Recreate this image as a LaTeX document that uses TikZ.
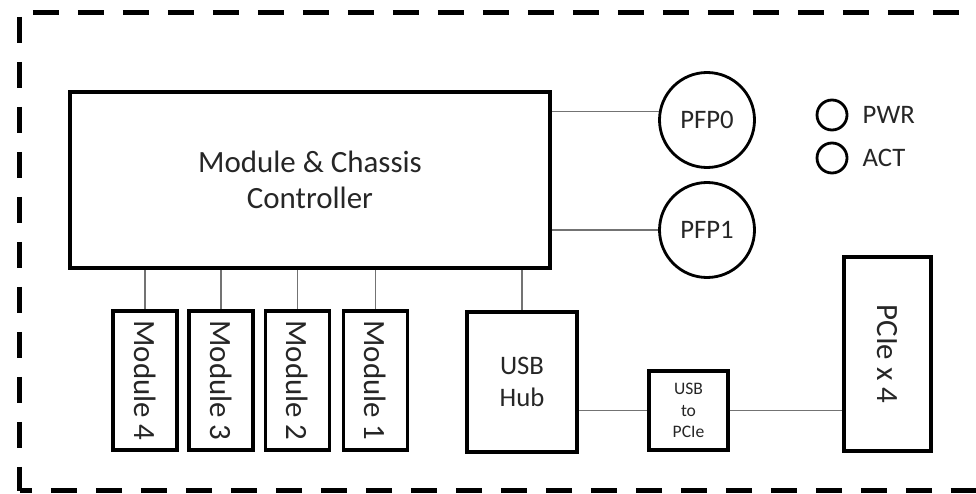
\documentclass[tikz,border=0pt]{standalone}
\usepackage{fontspec}
\setmainfont{Carlito}
\usepackage{xcolor}
\usepackage{tikz}
\usetikzlibrary{positioning}

\begin{document}
\begin{tikzpicture}[
  box/.style={rectangle, draw, line width=2.4pt, inner sep=2pt, align=center, text=black!85, font=\fontsize{22}{26}\selectfont},
  port/.style={circle, draw, line width=2pt, minimum size=2.375cm, inner sep=0pt, text=black!85, font=\fontsize{19}{23}\selectfont},
  led/.style={circle, draw, line width=2pt, minimum size=0.75cm, inner sep=0pt},
  ledlabel/.style={inner sep=0pt, text=black!85, font=\fontsize{19}{23}\selectfont},
  link/.style={draw=black!55, line width=1.2pt},
  frame/.style={line width=3.6pt, dash pattern=on 18.5pt off 13.5pt}
]
  \useasboundingbox (0,0) rectangle (24.4,12.325);

  % enclosure
  \draw[frame, dash phase=22.4pt] (0.4875,12.0125) -- (26,12.0125);
  \draw[frame, dash phase=28.8pt] (0.4875,12.0125) -- (0.4875,0.0625);
  \draw[frame, dash phase=9.6pt] (0.4875,0.0625) -- (26,0.0625);

  \node[box, line width=3pt, minimum width=12cm, minimum height=4.4cm] (ctrl) at (7.75,7.825) {Module \& Chassis\\Controller};

  \node[port] (pfp0) at (17.675,9.325) {PFP0};
  \node[port] (pfp1) at (17.675,6.575) {PFP1};

  \node[led] (pwr) at (20.8,9.45) {};
  \node[led] (act) at (20.8,8.375) {};
  \node[ledlabel, right=0.35cm of pwr] (pwrtext) {PWR};
  \node[ledlabel, right=0.35cm of act] (acttext) {ACT};

  % modules
  \node[box, rotate=-90, minimum width=3.475cm, minimum height=1.6cm] (mod4) at (3.625,2.8125) {Module 4};
  \node[box, rotate=-90, minimum width=3.475cm, minimum height=1.6cm] (mod3) at (5.525,2.8125) {Module 3};
  \node[box, rotate=-90, minimum width=3.475cm, minimum height=1.6cm] (mod2) at (7.44,2.8125) {Module 2};
  \node[box, rotate=-90, minimum width=3.475cm, minimum height=1.6cm] (mod1) at (9.39,2.8125) {Module 1};

  \node[box, line width=2.8pt, minimum width=2.75cm, minimum height=3.5cm, font=\fontsize{19}{23}\selectfont] (hub) at (13.05,2.775) {USB\\Hub};
  \node[box, minimum size=1.975cm, font=\fontsize{12.5}{15.5}\selectfont] (bridge) at (17.2125,2.0625) {USB\\to\\PCIe};
  \node[box, line width=2.8pt, rotate=-90, minimum width=4.85cm, minimum height=2.175cm] (pcie) at (22.1875,3.475) {PCIe x 4};

  \draw[link] (pfp0.170 -| ctrl.east) -- (pfp0.170);
  \draw[link] (pfp1.west -| ctrl.east) -- (pfp1.west);
  \draw[link] (ctrl.south -| mod4) -- (mod4);
  \draw[link] (ctrl.south -| mod3) -- (mod3);
  \draw[link] (ctrl.south -| mod2) -- (mod2);
  \draw[link] (ctrl.south -| mod1) -- (mod1);
  \draw[link] (ctrl.south -| hub) -- (hub);
  \draw[link] (bridge.west -| hub.east) -- (bridge.west);
  \draw[link] (bridge.east) -- (bridge.east -| pcie.south);
\end{tikzpicture}
\end{document}
